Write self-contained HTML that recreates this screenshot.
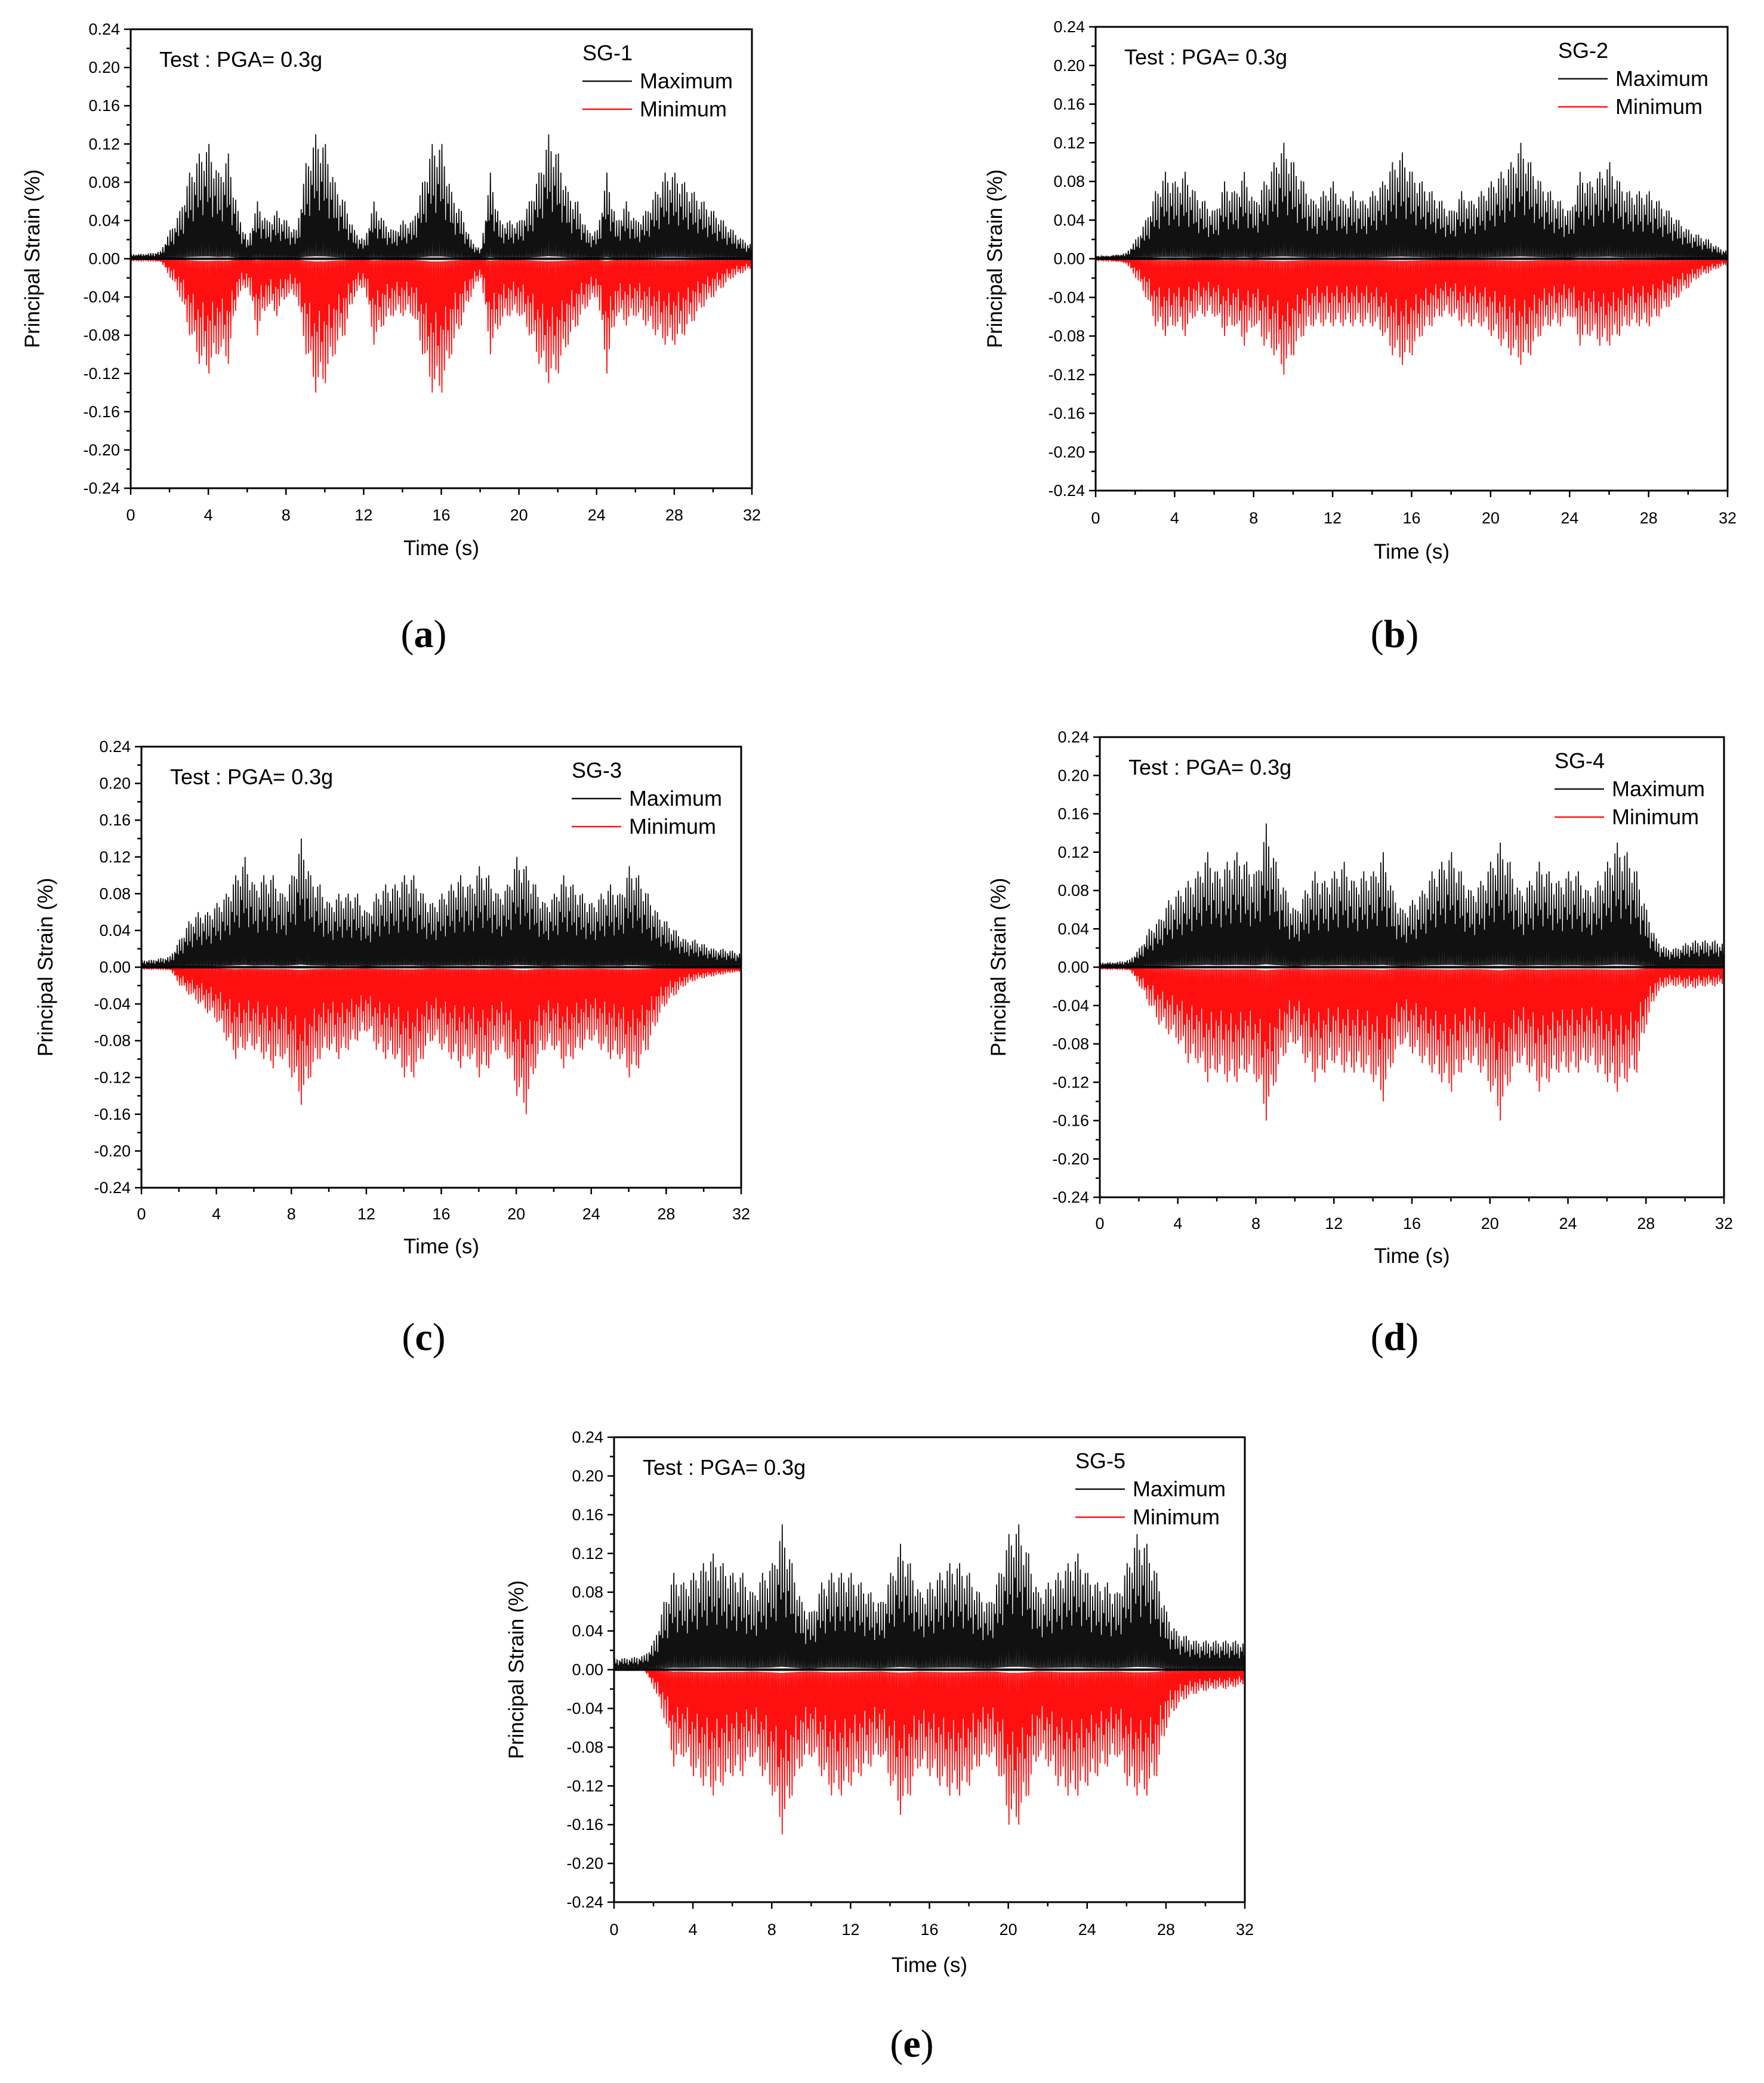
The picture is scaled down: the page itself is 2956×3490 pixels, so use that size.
<!DOCTYPE html>
<html><head><meta charset="utf-8">
<style>
html,body{margin:0;padding:0;background:#fff;}
svg{display:block;}
text{font-family:"Liberation Sans",sans-serif;}
.cap{font-family:"Liberation Serif",serif;font-size:66px;}
</style></head>
<body>
<svg id="fig" width="2956" height="3490" viewBox="0 0 2956 3490" xmlns="http://www.w3.org/2000/svg"></svg>
<script>
// Time grid: 0..32 s every 0.5 s (envelopes)
const timeStep = 0.5;
const xTicks = [0,4,8,12,16,20,24,28,32];
const yTicks = [0.24,0.20,0.16,0.12,0.08,0.04,0.00,-0.04,-0.08,-0.12,-0.16,-0.20,-0.24];
const sensorNames = ["SG-1","SG-2","SG-3","SG-4","SG-5"];
const captions = ["(a)","(b)","(c)","(d)","(e)"];

const maxSG1 = [0.005,0.005,0.006,0.008,0.03,0.05,0.09,0.11,0.12,0.09,0.11,0.05,0.02,0.06,0.04,0.05,0.04,0.03,0.10,0.13,0.12,0.08,0.06,0.03,0.02,0.06,0.04,0.03,0.04,0.04,0.08,0.12,0.12,0.07,0.05,0.02,0.01,0.09,0.04,0.04,0.04,0.06,0.09,0.13,0.11,0.07,0.06,0.03,0.03,0.09,0.04,0.06,0.04,0.05,0.07,0.09,0.09,0.08,0.07,0.06,0.05,0.04,0.03,0.02,0.015];
const minSG1 = [-0.002,-0.002,-0.002,-0.003,-0.02,-0.04,-0.08,-0.11,-0.12,-0.10,-0.11,-0.04,-0.03,-0.08,-0.05,-0.06,-0.04,-0.04,-0.10,-0.14,-0.13,-0.10,-0.08,-0.04,-0.03,-0.09,-0.07,-0.06,-0.06,-0.06,-0.10,-0.14,-0.14,-0.10,-0.07,-0.04,-0.02,-0.10,-0.07,-0.06,-0.06,-0.08,-0.11,-0.13,-0.12,-0.09,-0.07,-0.05,-0.04,-0.12,-0.06,-0.07,-0.06,-0.07,-0.08,-0.09,-0.09,-0.08,-0.065,-0.05,-0.04,-0.03,-0.02,-0.015,-0.01];

const maxSG2 = [0.003,0.003,0.004,0.006,0.02,0.04,0.07,0.09,0.08,0.09,0.07,0.06,0.05,0.08,0.07,0.09,0.06,0.08,0.10,0.12,0.10,0.08,0.06,0.07,0.08,0.06,0.07,0.06,0.07,0.08,0.10,0.11,0.09,0.08,0.07,0.06,0.05,0.07,0.06,0.07,0.08,0.09,0.10,0.12,0.10,0.08,0.07,0.06,0.05,0.09,0.08,0.09,0.10,0.08,0.07,0.07,0.07,0.06,0.05,0.04,0.03,0.025,0.02,0.012,0.008];
const minSG2 = [-0.002,-0.002,-0.003,-0.005,-0.02,-0.04,-0.07,-0.08,-0.07,-0.08,-0.06,-0.06,-0.06,-0.08,-0.07,-0.09,-0.07,-0.09,-0.10,-0.12,-0.10,-0.08,-0.07,-0.07,-0.07,-0.07,-0.07,-0.07,-0.07,-0.08,-0.10,-0.11,-0.10,-0.08,-0.07,-0.06,-0.06,-0.07,-0.07,-0.07,-0.08,-0.09,-0.10,-0.11,-0.10,-0.08,-0.07,-0.07,-0.06,-0.09,-0.08,-0.09,-0.09,-0.08,-0.07,-0.07,-0.07,-0.06,-0.05,-0.04,-0.03,-0.02,-0.015,-0.01,-0.006];

const maxSG3 = [0.008,0.008,0.01,0.012,0.03,0.05,0.06,0.06,0.07,0.08,0.10,0.12,0.09,0.10,0.10,0.08,0.10,0.14,0.10,0.09,0.07,0.08,0.08,0.08,0.06,0.08,0.09,0.09,0.10,0.10,0.08,0.07,0.08,0.09,0.10,0.09,0.11,0.10,0.08,0.09,0.12,0.11,0.09,0.07,0.08,0.10,0.09,0.08,0.07,0.08,0.09,0.08,0.11,0.10,0.08,0.06,0.05,0.04,0.03,0.03,0.025,0.02,0.02,0.018,0.015];
const minSG3 = [-0.002,-0.002,-0.002,-0.003,-0.02,-0.03,-0.04,-0.05,-0.06,-0.08,-0.10,-0.09,-0.09,-0.10,-0.11,-0.10,-0.12,-0.15,-0.12,-0.10,-0.09,-0.10,-0.09,-0.08,-0.07,-0.09,-0.10,-0.10,-0.12,-0.12,-0.10,-0.08,-0.09,-0.10,-0.11,-0.10,-0.12,-0.11,-0.09,-0.10,-0.14,-0.16,-0.11,-0.09,-0.09,-0.11,-0.10,-0.09,-0.08,-0.09,-0.10,-0.10,-0.12,-0.11,-0.09,-0.06,-0.04,-0.03,-0.02,-0.015,-0.012,-0.01,-0.008,-0.006,-0.005];

const maxSG4 = [0.005,0.005,0.006,0.008,0.02,0.04,0.05,0.07,0.08,0.09,0.10,0.12,0.10,0.11,0.12,0.11,0.10,0.15,0.11,0.08,0.06,0.08,0.10,0.09,0.10,0.11,0.09,0.10,0.10,0.12,0.08,0.06,0.07,0.08,0.10,0.11,0.12,0.10,0.08,0.09,0.11,0.13,0.11,0.08,0.09,0.11,0.10,0.09,0.10,0.10,0.08,0.09,0.11,0.13,0.12,0.10,0.06,0.03,0.02,0.02,0.025,0.028,0.028,0.028,0.025];
const minSG4 = [-0.002,-0.002,-0.002,-0.003,-0.02,-0.04,-0.06,-0.07,-0.08,-0.10,-0.10,-0.12,-0.11,-0.12,-0.12,-0.11,-0.12,-0.16,-0.12,-0.09,-0.08,-0.10,-0.12,-0.11,-0.10,-0.11,-0.11,-0.11,-0.12,-0.14,-0.10,-0.08,-0.09,-0.10,-0.11,-0.12,-0.13,-0.11,-0.10,-0.11,-0.13,-0.16,-0.12,-0.10,-0.11,-0.13,-0.12,-0.11,-0.11,-0.11,-0.10,-0.11,-0.12,-0.13,-0.12,-0.11,-0.06,-0.03,-0.02,-0.02,-0.022,-0.022,-0.02,-0.02,-0.018];

const maxSG5 = [0.012,0.012,0.013,0.015,0.03,0.07,0.10,0.09,0.10,0.11,0.12,0.11,0.10,0.10,0.08,0.10,0.11,0.15,0.11,0.07,0.06,0.09,0.10,0.10,0.10,0.09,0.08,0.07,0.10,0.13,0.11,0.08,0.09,0.10,0.11,0.11,0.10,0.08,0.07,0.10,0.14,0.15,0.12,0.08,0.09,0.10,0.11,0.12,0.10,0.09,0.09,0.08,0.11,0.14,0.13,0.10,0.06,0.04,0.035,0.03,0.03,0.03,0.03,0.03,0.028];
const minSG5 = [0.001,0.001,0.001,0.0,-0.02,-0.05,-0.10,-0.09,-0.11,-0.12,-0.13,-0.12,-0.11,-0.11,-0.09,-0.11,-0.13,-0.17,-0.13,-0.10,-0.09,-0.11,-0.13,-0.13,-0.12,-0.11,-0.10,-0.09,-0.12,-0.15,-0.13,-0.10,-0.11,-0.12,-0.13,-0.13,-0.12,-0.10,-0.09,-0.11,-0.16,-0.16,-0.13,-0.09,-0.10,-0.12,-0.13,-0.13,-0.12,-0.11,-0.10,-0.09,-0.12,-0.13,-0.13,-0.11,-0.06,-0.04,-0.03,-0.025,-0.022,-0.02,-0.02,-0.018,-0.015];

const maxSeries = [maxSG1,maxSG2,maxSG3,maxSG4,maxSG5];
const minSeries = [minSG1,minSG2,minSG3,minSG4,minSG5];

const layouts = [
 {L:219,R:1260,T:49,B:818,ylx:54,xty:862,xtt:918,capx:710,capy:1084},
 {L:1836,R:2895,T:45,B:822,ylx:1667,xty:867,xtt:924,capx:2337,capy:1084},
 {L:237,R:1242,T:1251,B:1990,ylx:76,xty:2033,xtt:2088,capx:710,capy:2262},
 {L:1843,R:2889,T:1235,B:2006,ylx:1673,xty:2049,xtt:2104,capx:2337,capy:2262},
 {L:1029,R:2086,T:2408,B:3187,ylx:865,xty:3232,xtt:3292,capx:1528,capy:3446}
];

const NS="http://www.w3.org/2000/svg";
const svg=document.getElementById('fig');
function mk(tag,attrs,parent){const e=document.createElementNS(NS,tag);for(const k in attrs)e.setAttribute(k,attrs[k]);(parent||svg).appendChild(e);return e;}
const texture=[1,0.55,0.9,0.4,0.8,0.65,0.95,0.5];

function drawChart(ci){
  const lay=layouts[ci];
  const g=mk('g',{});
  
  
  const xs=t=>lay.L+(t/32)*(lay.R-lay.L);
  const ys=v=>lay.T+((0.24-v)/0.48)*(lay.B-lay.T);
  const drawSeries=(arr,color,name)=>{
    let d='';
    const sub=texture.length;
    for(let i=0;i<arr.length-1;i++){
      for(let k=0;k<sub;k++){
        const t=(i+k/sub)*timeStep;
        const v=arr[i]+(arr[i+1]-arr[i])*k/sub;
        const peak=v*texture[k];
        const fl=v*0.02;
        d+=(d?'L':'M')+xs(t).toFixed(1)+' '+ys(fl).toFixed(1);
        d+='L'+xs(t+timeStep/sub/2).toFixed(1)+' '+ys(peak).toFixed(1);
      }
    }
    const p=mk('path',{d:d,fill:'none',stroke:color,'stroke-width':1.8,'stroke-linejoin':'miter'},g);
    
    
  };
  drawSeries(maxSeries[ci],'#111','maximum-series');
  drawSeries(minSeries[ci],'#ff1010','minimum-series');
  const z=mk('line',{x1:lay.L,x2:lay.R,y1:ys(0),y2:ys(0),stroke:'#000','stroke-width':4},g);
  
  
  const fr=mk('rect',{x:lay.L,y:lay.T,width:lay.R-lay.L,height:lay.B-lay.T,fill:'none',stroke:'#000','stroke-width':3},g);
  
  
  for(let v=-0.24;v<=0.2401;v+=0.02){
    const major=Math.abs(Math.round(v*100)%4)===0;
    mk('line',{x1:lay.L,x2:lay.L-(major?11:7),y1:ys(v),y2:ys(v),stroke:'#000','stroke-width':2.5},g);
  }
  yTicks.forEach(v=>{
    const t=mk('text',{x:lay.L-18,y:ys(v)+9,'text-anchor':'end','font-size':27},g);
    t.textContent=v.toFixed(2).replace('-0.00','0.00');
    
    
  });
  for(let s=0;s<=32;s+=2){
    const major=s%4===0;
    mk('line',{x1:xs(s),x2:xs(s),y1:lay.B,y2:lay.B+(major?11:7),stroke:'#000','stroke-width':2.5},g);
  }
  xTicks.forEach(s=>{
    const t=mk('text',{x:xs(s),y:lay.xty+10,'text-anchor':'middle','font-size':27},g);
    t.textContent=s;
    
    
  });
  const xt=mk('text',{x:(lay.L+lay.R)/2,y:lay.xtt+12,'text-anchor':'middle','font-size':35},g);
  xt.textContent='Time (s)';
  
  
  const cy=(lay.T+lay.B)/2;
  const yt=mk('text',{x:lay.ylx,y:cy,'text-anchor':'middle','font-size':35,transform:'rotate(-90 '+lay.ylx+' '+cy+') translate(0 12)'},g);
  yt.textContent='Principal Strain (%)';
  
  
  const tt=mk('text',{x:lay.L+48,y:lay.T+63,'font-size':36},g);
  tt.textContent='Test : PGA= 0.3g';
  
  
  const sg=mk('text',{x:lay.R-284,y:lay.T+52,'font-size':36},g);
  sg.textContent=sensorNames[ci];
  
  
  [['Maximum','#111',87],['Minimum','#ff1010',134]].forEach(([lab,col,dy])=>{
    const l=mk('line',{x1:lay.R-284,x2:lay.R-201,y1:lay.T+dy,y2:lay.T+dy,stroke:col,'stroke-width':2.5},g);
    
    
    const t=mk('text',{x:lay.R-188,y:lay.T+dy+12,'font-size':36},g);
    t.textContent=lab;
    
    
  });
  const cap=mk('text',{x:lay.capx,y:lay.capy,'text-anchor':'middle',class:'cap'},g);
  cap.innerHTML='(<tspan font-weight="bold">'+captions[ci].slice(1,2)+'</tspan>)';
  
  
}
for(let i=0;i<5;i++)drawChart(i);
</script>
</body></html>
